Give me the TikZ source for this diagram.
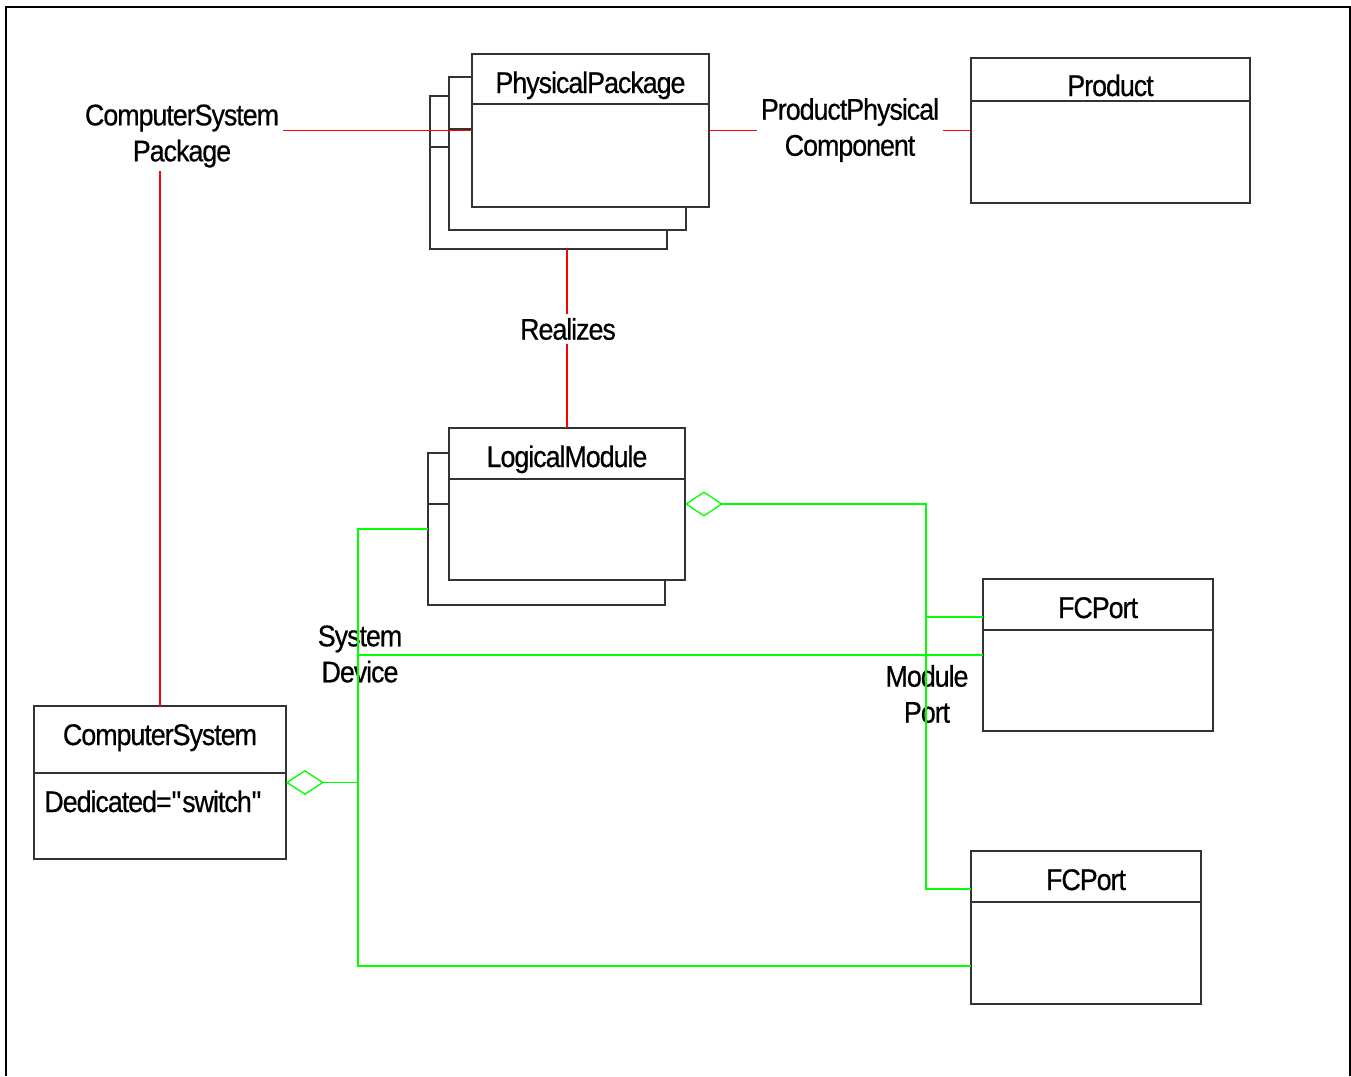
\documentclass[tikz,border=0pt]{standalone}
\usepackage{fontspec}
\setmainfont{Liberation Sans}[FakeStretch=0.9,LetterSpace=-3.5,FakeBold=0.5]
\usetikzlibrary{calc,arrows.meta}
\definecolor{umlgreen}{RGB}{0,255,0}
\definecolor{umlred}{RGB}{255,0,0}

\begin{document}
\begin{tikzpicture}[x=0.02cm,y=-0.02cm,
    every node/.style={font=\fontsize{17}{20.5}\selectfont},
    cls/.style={draw=black!80,fill=white,line width=.7pt,inner sep=0pt,outer sep=0pt,anchor=north west},
    divider/.style={draw=black!80,line width=.7pt},
    title/.style={anchor=base,inner sep=0pt},
    lbl/.style={align=center,inner sep=2pt},
    rel/.style={umlred,line width=.75pt},
    link/.style={umlgreen,line width=.75pt},
    agg/.style={umlgreen,line width=.9pt,{Diamond[open,length=0.76cm,width=0.5cm,line width=.75pt]}-}]
    \useasboundingbox (0,0) rectangle (1351,1076);
    \draw[line width=1.1pt] (6,1076) -- (6,7) -- (1350,7) -- (1350,1076);

    \node[cls,minimum width=4.74cm,minimum height=3.06cm] (pp3) at (430,96) {};
    \draw[divider] ($(pp3.north west)+(0,51)$) -- ($(pp3.north east)+(0,51)$);
    \node[cls,minimum width=4.74cm,minimum height=3.06cm] (pp2) at (449,77) {};
    \draw[divider] ($(pp2.north west)+(0,52)$) -- ($(pp2.north east)+(0,52)$);
    \node[cls,minimum width=4.74cm,minimum height=3.06cm] (pp) at (472,54) {};
    \draw[divider] ($(pp.north west)+(0,50)$) -- ($(pp.north east)+(0,50)$);
    \node[title] (pp-title) at ($(pp.north)+(0,39)$) {PhysicalPackage};

    \node[cls,minimum width=5.58cm,minimum height=2.9cm] (prod) at (971,58) {};
    \draw[divider] ($(prod.north west)+(0,43)$) -- ($(prod.north east)+(0,43)$);
    \node[title] (prod-title) at ($(prod.north)+(0,38)$) {Product};

    \node[cls,minimum width=4.74cm,minimum height=3.04cm] (lm2) at (428,453) {};
    \draw[divider] ($(lm2.north west)+(0,51)$) -- ($(lm2.north east)+(0,51)$);
    \node[cls,minimum width=4.72cm,minimum height=3.04cm] (lm) at (449,428) {};
    \draw[divider] ($(lm.north west)+(0,51)$) -- ($(lm.north east)+(0,51)$);
    \node[title] (lm-title) at ($(lm.north)+(0,39)$) {LogicalModule};

    \node[cls,minimum width=4.6cm,minimum height=3.04cm] (fc1) at (983,579) {};
    \draw[divider] ($(fc1.north west)+(0,51)$) -- ($(fc1.north east)+(0,51)$);
    \node[title] (fc1-title) at ($(fc1.north)+(0,39)$) {FCPort};

    \node[cls,minimum width=4.6cm,minimum height=3.06cm] (fc2) at (971,851) {};
    \draw[divider] ($(fc2.north west)+(0,51)$) -- ($(fc2.north east)+(0,51)$);
    \node[title] (fc2-title) at ($(fc2.north)+(0,39)$) {FCPort};

    \node[cls,minimum width=5.04cm,minimum height=3.06cm] (cs) at (34,706) {};
    \draw[divider] ($(cs.north west)+(0,67)$) -- ($(cs.north east)+(0,67)$);
    \node[title] (cs-title) at ($(cs.north)+(0,39)$) {ComputerSystem};
    \node[inner sep=0pt,anchor=base west] (cs-attr) at ($(cs.north west)+(10,106)$) {Dedicated=\textquotedbl switch\textquotedbl};

    \node[lbl] (csp) at (182,136) {ComputerSystem\\Package};
    \node[lbl] (ppc) at (850,130) {ProductPhysical\\Component};
    \node[lbl] (real) at (568,329) {Realizes};
    \node[lbl] (sd) at (360,654) {System\\Device};
    \node[lbl] (mp) at (927,694) {Module\\Port};

    \draw[rel] (cs.north) -- (cs.north |- csp.south);
    \draw[rel] (csp.east |- pp.west) -- (pp.west);
    \draw[rel] (lm.north) -- (lm.north |- real.south);
    \draw[rel] (lm.north |- real.north) -- (lm.north |- pp3.south);
    \draw[rel] (pp.east) -- (ppc.west |- pp.east);
    \draw[rel] (ppc.east |- prod.west) -- (prod.west);

    \coordinate (mpj) at ($(lm.east)+(241,0)$);
    \draw[agg] (lm.east) -- (mpj) |- ($(fc2.north west)+(0,38)$);
    \draw[link] ($(fc1.north west)+(0,38)$) -| (mpj);
    \coordinate (sdj) at ($(cs.east)+(72,0)$);
    \draw[agg] (cs.east) -- (sdj);
    \draw[link] (lm2.west) -| (sdj);
    \draw[link] (fc1.west) -| (sdj);
    \draw[link] ($(fc2.south west)+(0,-38)$) -| (sdj);
\end{tikzpicture}
\end{document}
